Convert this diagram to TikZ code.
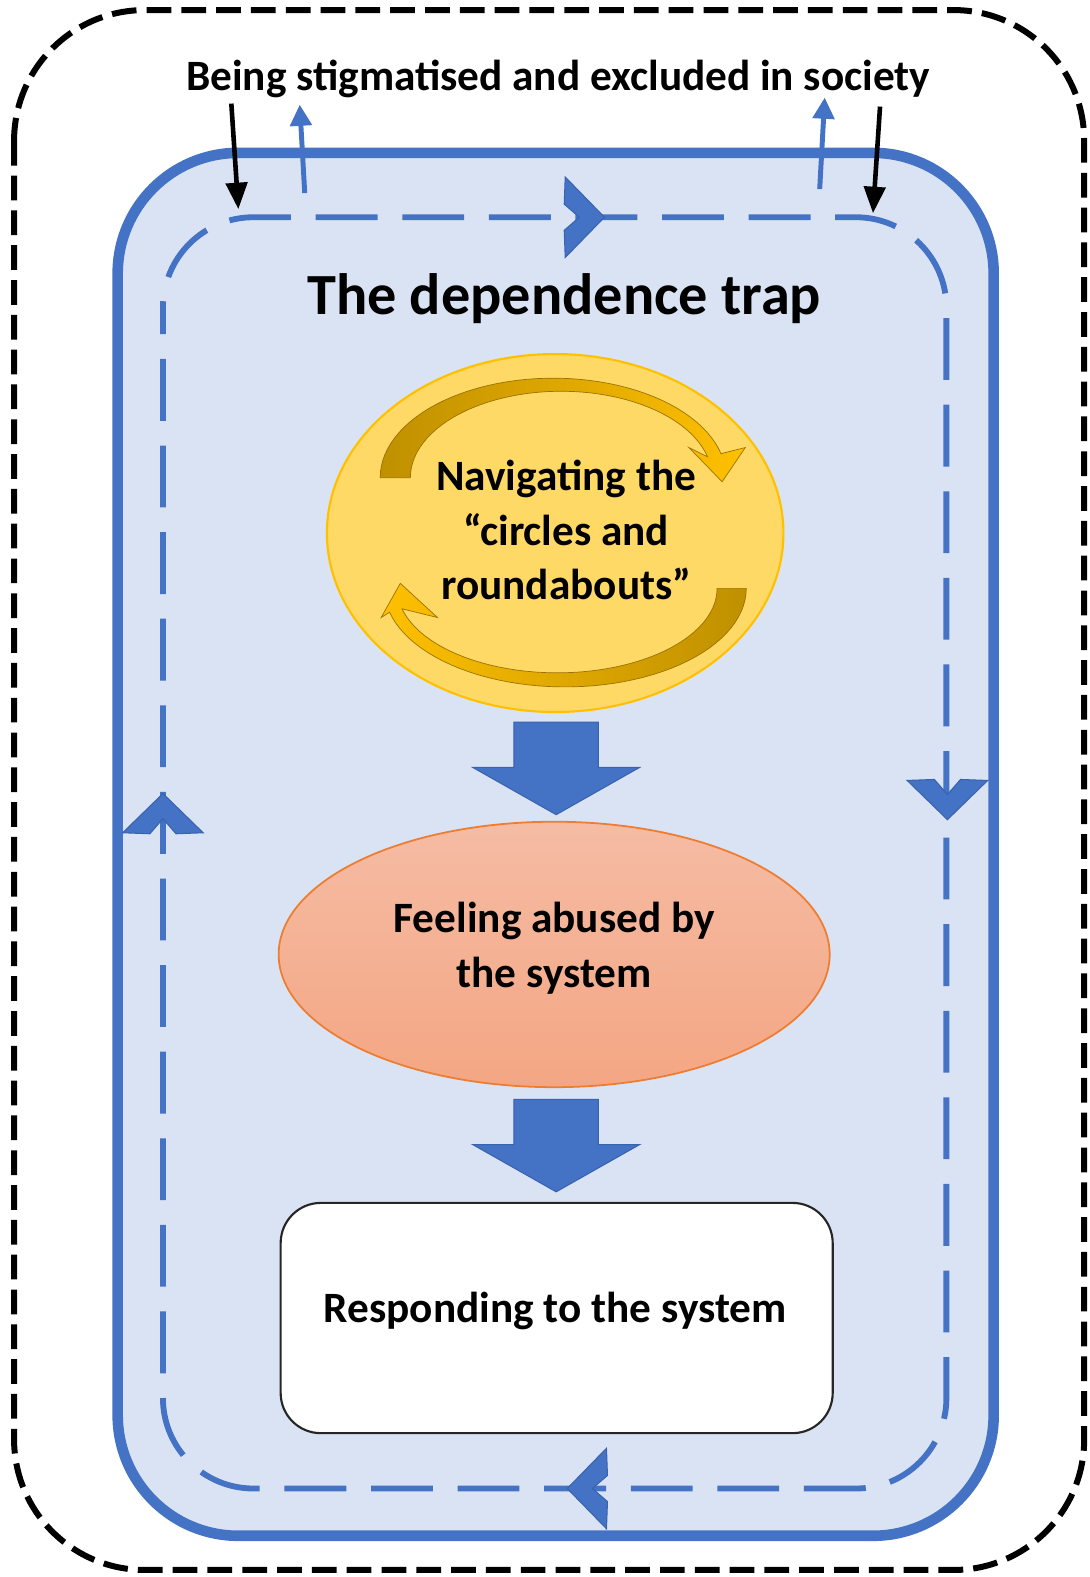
\documentclass[tikz,border=0pt]{standalone}
\usepackage{fontspec}
\setmainfont{Carlito}
\usetikzlibrary{arrows.meta,shapes.geometric}

\definecolor{accent}{HTML}{4472C4}
\definecolor{accentdark}{HTML}{3A63AE}
\definecolor{panel}{HTML}{DAE3F3}
\definecolor{goldline}{HTML}{FFC000}
\definecolor{goldfill}{HTML}{FFD966}
\definecolor{golddark}{HTML}{BF9000}
\definecolor{salmontop}{HTML}{F5BCA4}
\definecolor{salmonbot}{HTML}{F4A683}
\definecolor{orangeline}{HTML}{ED7D31}

\begin{document}
\begin{tikzpicture}[x=0.02cm,y=-0.02cm,
  txt/.style={font=\bfseries\fontsize{24.5}{31}\selectfont, align=center, inner sep=0pt},
  bigtxt/.style={font=\bfseries\fontsize{33}{40}\selectfont, inner sep=0pt},
  blackarrow/.style={line width=2.6pt, -{Triangle[length=15pt,width=12pt]}},
  bluearrow/.style={accent, line width=2.8pt, -{Triangle[length=12pt,width=12pt]}},
  chevshape/.style={fill=accent, draw=accentdark, line width=0.6pt, line join=miter},
  pics/chevron/.style={code={
    \path[chevshape] (0,0) -- (-39,-40) -- (-40,-13) -- (-25,0)
      -- (-40,13) -- (-39,40) -- cycle;}},
  pics/blockarrow/.style={code={
    \path[chevshape] (0,0) -- (-83,-47) -- (-42,-47) -- (-42,-92)
      -- (42,-92) -- (42,-47) -- (83,-47) -- cycle;}}
]
\useasboundingbox (0,0) rectangle (1083,1568);

% outer frame: society
\draw[line width=3.4pt, dash pattern=on 14pt off 5.7pt, rounded corners=2.6cm]
  (14,10) rectangle (1078,1561);

% the trap panel
\draw[accent, fill=panel, line width=6pt, rounded corners=2.4cm]
  (117,152) rectangle (988,1527);

% dashed cycle inside the trap
\draw[accent, line width=3.3pt, dash pattern=on 35pt off 14pt, dash phase=20pt,
      rounded corners=1.8cm]
  (162,216) rectangle (941,1480);

% direction marks on the cycle
\pic at (601,216) {chevron};
\pic[rotate=-90] at (942,815) {chevron};
\pic[rotate=180] at (564,1480) {chevron};
\pic[rotate=90] at (162,789) {chevron};

% labels
\node[txt, anchor=base] (society) at (555,90) {Being stigmatised and excluded in society};
\node[bigtxt, anchor=base] (trap) at (561,313) {The dependence trap};

% arrows between society and the trap
\coordinate (inA) at (230,103);
\coordinate (inAend) at (237,208);
\coordinate (inB) at (875,106);
\coordinate (inBend) at (868,212);
\coordinate (outA) at (303,192);
\coordinate (outAend) at (298,104);
\coordinate (outB) at (815,188);
\coordinate (outBend) at (820,97);
\draw[blackarrow] (inA) -- (inAend);
\draw[blackarrow] (inB) -- (inBend);
\draw[bluearrow] (outA) -- (outAend);
\draw[bluearrow] (outB) -- (outBend);

% stage 1
\node[ellipse, draw=goldline, fill=goldfill, line width=1.2pt, inner sep=0pt,
      minimum width=9.08cm, minimum height=7.12cm] (navigate) at (552,530) {};

% circular arrows inside stage 1
\shade[left color=golddark, right color=goldline, draw=golddark!80!black, line width=0.4pt]
  plot[domain=180:14, samples=50] ({550+172*cos(\x)}, {475-99*sin(\x)})
  -- (741,445) -- (718,479) -- (685,445) --
  plot[domain=14:180, samples=50] ({558+150*cos(\x)}, {475-86*sin(\x)}) -- cycle;
\shade[left color=goldline, right color=golddark, draw=golddark!80!black, line width=0.4pt]
  plot[domain=0:-166, samples=50] ({562+180*cos(\x)}, {585-98*sin(\x)})
  -- (379,614) -- (398,580) -- (435,614) --
  plot[domain=-166:0, samples=50] ({554+159*cos(\x)}, {585-84*sin(\x)}) -- cycle;

\node[txt] (navtext) at (563,527) {Navigating the\\``circles and\\roundabouts''};

% stage 2
\node[ellipse, draw=orangeline, top color=salmontop, bottom color=salmonbot,
      line width=1pt, inner sep=0pt,
      minimum width=10.96cm, minimum height=5.28cm] (abused) at (551,949) {};
\node[txt] (abusedtext) at (551,943) {Feeling abused by\\the system};

% stage 3
\node[draw=black!85, fill=white, line width=1.2pt, rounded corners=0.8cm,
      minimum width=10.98cm, minimum height=4.58cm, inner sep=0pt] (respond) at (553.5,1310.5) {};
\node[txt] (respondtext) at (552,1303) {Responding to the system};

% block arrows between the stages
\pic at (553,810) {blockarrow};
\pic at (553,1185) {blockarrow};
\end{tikzpicture}
\end{document}
